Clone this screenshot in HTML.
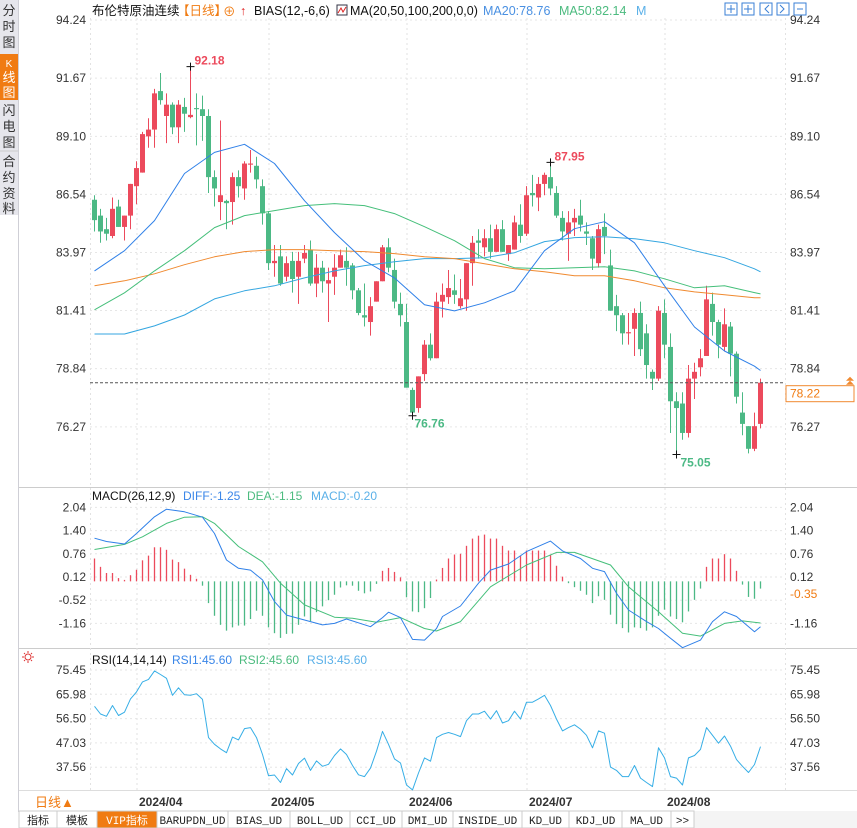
<!DOCTYPE html>
<html><head><meta charset="utf-8"><style>
html,body{margin:0;padding:0;background:#fff;width:857px;height:828px;overflow:hidden;font-family:"Liberation Sans","Noto Sans CJK SC",sans-serif;}
svg{display:block}
</style></head><body>
<svg id="c" width="857" height="828" viewBox="0 0 857 828" xmlns="http://www.w3.org/2000/svg" font-family="Liberation Sans, Noto Sans CJK SC, sans-serif">
<rect x="0" y="0" width="857" height="828" fill="#fff"/>
<g>
<rect x="0" y="0" width="18" height="215" fill="#e6e6ec"/>
<line x1="18.5" y1="0" x2="18.5" y2="812" stroke="#cfcfd6"/>
<g font-size="13" fill="#333" text-anchor="middle"><text x="9" y="15">分</text><text x="9" y="31">时</text><text x="9" y="47">图</text></g>
<rect x="0" y="54" width="18" height="46" fill="#f07b12"/>
<g font-size="13" fill="#fff" text-anchor="middle"><text x="9" y="67" font-size="10">K</text><text x="9" y="82">线</text><text x="9" y="97">图</text></g>
<g font-size="13" fill="#333" text-anchor="middle"><text x="9" y="115">闪</text><text x="9" y="131">电</text><text x="9" y="147">图</text></g>
<line x1="0" y1="151" x2="18" y2="151" stroke="#ccc"/>
<g font-size="13" fill="#333" text-anchor="middle"><text x="9" y="166">合</text><text x="9" y="182">约</text><text x="9" y="198">资</text><text x="9" y="213">料</text></g>
</g>
<g id="grid"></g>
<g id="plot"></g>
<g font-size="12.5">
<text x="92" y="15" fill="#111">布伦特原油连续</text>
<text x="177" y="15" fill="#f07b12">【日线】</text>
<text x="223" y="16" fill="#f07b12">⊕</text>
<text x="240" y="15" fill="#e02020" font-weight="bold">↑</text>
<text x="254" y="15" fill="#111">BIAS(12,-6,6)</text>
<rect x="337" y="5" width="10" height="10" fill="#fff" stroke="#334"/>
<polyline points="338,13 341,8 343,12 346,7" fill="none" stroke="#d22" stroke-width="1"/>
<text x="350" y="15" fill="#111">MA(20,50,100,200,0,0)</text>
<text x="483" y="15" fill="#4a90e2">MA20:78.76</text>
<text x="559" y="15" fill="#4cbb7f">MA50:82.14</text>
<text x="636" y="15" fill="#5ab0e8">M</text>
</g>
<g fill="none" stroke="#3a7fd5">
<rect x="725" y="3" width="12" height="12"/>
<rect x="742" y="3" width="12" height="12"/>
<rect x="760" y="3" width="12" height="12"/>
<rect x="777" y="3" width="12" height="12"/>
<rect x="794" y="3" width="12" height="12"/>
<path d="M731,5v8M727,9h8M748,5v8M744,9h8M769,5l-4,4l4,4M780,5l4,4l-4,4M797,9h6"/>
</g>
<g font-size="12">
<text x="92" y="500" fill="#111">MACD(26,12,9)</text>
<text x="183" y="500" fill="#3a86e8">DIFF:-1.25</text>
<text x="247" y="500" fill="#4cbb7f">DEA:-1.15</text>
<text x="311" y="500" fill="#5ab0e8">MACD:-0.20</text>
</g>
<g font-size="12">
<circle cx="28" cy="657" r="3" fill="none" stroke="#d33"/><path d="M28,651v2M28,661v2M22,657h2M32,657h2M24,653l1,1M31,660l1,1M32,653l-1,1M25,660l-1,1" stroke="#d33"/>
<text x="92" y="664" fill="#111">RSI(14,14,14)</text>
<text x="172" y="664" fill="#3a86e8">RSI1:45.60</text>
<text x="239" y="664" fill="#4cbb7f">RSI2:45.60</text>
<text x="307" y="664" fill="#5ab0e8">RSI3:45.60</text>
</g>
<g>
<text x="35" y="807" fill="#f07b12" font-size="13">日线▲</text>
</g>
<g id="tabs"></g>
</svg>
<script>
const open  = [86.3,85.6,85.0,84.7,86.0,85.1,85.6,86.9,87.5,89.1,89.4,91.1,90.0,90.5,89.5,90.4,89.95,90.35,90.3,90.0,87.3,86.2,86.25,86.2,87.3,86.8,87.85,87.8,86.9,85.7,83.5,83.8,82.9,83.6,82.9,83.7,84.1,82.6,83.3,82.6,82.9,83.3,83.6,83.4,82.3,81.2,80.9,81.8,82.7,84.2,83.2,81.7,80.9,77.9,77.1,78.6,79.9,79.3,81.8,82.0,82.3,81.6,81.9,83.5,84.5,84.2,84.6,84.0,85.0,83.9,84.1,85.2,84.8,86.6,86.4,87.0,87.3,86.6,85.5,84.8,85.3,85.6,84.9,84.6,83.5,85.1,83.4,81.6,81.2,80.4,80.6,81.3,80.4,78.7,78.4,81.3,79.8,77.4,77.3,76.0,78.4,78.9,79.4,81.7,80.9,79.8,80.7,79.5,76.9,76.3,75.3,76.4];
const high  = [86.5,85.9,85.5,86.4,86.3,85.6,87.0,88.0,89.3,89.9,91.2,91.9,91.0,90.6,90.7,90.8,92.18,91.0,90.9,90.3,87.6,89.8,86.3,87.5,87.6,88.0,88.5,88.2,87.2,85.8,84.3,84.3,83.8,84.0,84.0,84.3,84.5,83.9,83.6,83.3,83.9,84.1,84.2,83.5,82.4,82.6,82.0,82.7,84.3,84.6,83.7,82.2,81.7,78.0,78.5,80.1,80.4,82.2,82.6,83.2,83.0,82.8,83.5,84.7,85.0,85.0,85.2,85.2,85.4,84.3,85.6,86.1,86.9,87.4,87.3,87.5,87.95,86.9,85.8,85.8,85.9,86.3,85.3,84.7,85.2,85.7,84.1,82.1,81.3,81.3,81.5,81.8,80.8,78.8,81.6,81.9,80.4,77.8,77.8,79.0,79.1,79.7,82.5,82.2,81.0,81.5,80.9,79.6,77.8,76.3,76.9,78.4];
const low   = [84.9,84.4,84.5,84.6,85.1,84.5,85.0,86.1,87.5,88.6,88.6,90.5,88.8,89.2,88.8,89.3,89.9,88.7,88.9,86.6,86.0,85.4,85.0,85.2,86.4,86.3,87.5,86.8,85.2,83.2,82.9,82.5,82.7,82.2,81.7,83.5,82.5,82.0,82.2,80.9,82.1,83.3,82.5,81.9,81.2,80.7,80.3,81.8,82.7,83.1,81.5,80.7,78.0,76.76,76.9,78.3,79.2,79.3,81.1,81.7,81.7,81.5,81.4,82.5,83.7,83.8,83.7,84.0,84.0,83.6,84.1,84.4,84.7,86.0,85.8,86.5,86.5,85.5,84.5,83.6,84.7,84.9,84.3,83.2,83.3,83.9,81.4,80.5,79.9,79.9,79.4,79.4,78.4,77.9,78.3,79.3,76.0,75.05,75.7,75.8,77.5,78.5,79.4,80.3,79.3,79.6,78.5,77.3,75.9,75.1,75.2,76.2];
const close = [85.4,84.9,84.8,85.9,85.1,85.6,87.0,87.7,89.2,89.4,91.0,90.7,90.5,89.5,90.5,90.1,90.05,90.3,90.0,87.3,86.8,86.5,86.15,87.3,86.9,87.9,87.9,87.2,85.7,83.5,83.6,82.6,83.5,82.8,83.6,83.95,82.6,83.3,82.7,82.75,83.3,83.85,83.3,82.3,81.3,81.1,81.6,82.7,84.2,83.3,81.8,81.2,78.0,76.9,78.5,79.9,79.3,81.8,82.1,82.4,82.1,81.95,83.5,84.4,84.4,84.6,84.0,85.0,84.0,84.3,85.3,84.7,86.5,86.5,87.0,87.4,86.8,85.6,84.9,85.3,85.5,85.2,84.8,83.7,85.0,84.7,81.4,81.2,80.4,80.45,81.3,79.7,79.0,78.4,81.4,79.9,77.4,77.1,76.0,78.4,78.7,79.3,81.9,80.9,79.9,80.8,79.5,77.6,76.4,75.3,76.3,78.22];
const maIdx  = [0,5,10,15,20,25,30,35,40,45,50,55,60,65,70,75,80,85,90,95,100,105,110,111];
const ma20   = [83.16,84.05,85.38,87.46,88.39,88.75,87.90,86.26,84.85,83.61,82.85,81.66,81.39,81.75,82.28,84.05,85.02,85.33,84.40,82.50,80.68,79.62,78.95,78.76];
const ma50   = [81.44,82.19,83.16,84.05,85.07,85.60,85.82,86.04,86.13,86.04,85.69,85.11,84.49,83.70,83.30,83.25,83.30,83.34,83.16,82.81,82.41,82.50,82.20,82.14];
const ma100  = [82.50,82.72,83.03,83.43,83.78,84.01,84.10,84.10,84.05,84.01,83.92,83.78,83.70,83.47,83.25,83.12,82.94,82.94,82.72,82.41,82.23,82.10,81.97,81.97];
const ma200  = [80.37,80.37,80.73,81.21,81.92,82.28,82.50,82.85,83.16,83.39,83.56,83.70,83.70,83.74,83.96,84.45,84.63,84.67,84.58,84.40,84.05,83.74,83.25,83.12];
const macdHist = [0.63,0.40,0.23,0.23,0.09,0.04,0.17,0.32,0.58,0.71,0.94,0.94,0.87,0.60,0.53,0.35,0.18,0.07,-0.12,-0.60,-0.95,-1.20,-1.36,-1.27,-1.22,-1.22,-1.04,-0.81,-0.95,-1.27,-1.43,-1.56,-1.45,-1.44,-1.20,-0.97,-1.10,-0.85,-0.69,-0.52,-0.37,-0.17,-0.11,-0.12,-0.26,-0.33,-0.28,-0.07,0.29,0.37,0.26,0.11,-0.44,-0.83,-0.85,-0.74,-0.46,0.05,0.37,0.63,0.74,0.76,0.98,1.18,1.26,1.29,1.18,1.18,0.98,0.85,0.85,0.71,0.85,0.85,0.85,0.85,0.74,0.43,0.13,-0.05,-0.16,-0.26,-0.37,-0.60,-0.41,-0.51,-0.92,-1.18,-1.29,-1.41,-1.27,-1.29,-1.36,-1.27,-0.95,-0.78,-0.97,-1.04,-1.13,-0.83,-0.51,-0.20,0.40,0.63,0.63,0.75,0.63,0.29,-0.09,-0.43,-0.48,-0.20];
const difIdx = [0,2,5,7,10,12,15,18,20,22,24,26,28,30,32,36,38,40,42,46,48,49,51,53,55,57,58,61,64,66,69,72,76,78,81,83,85,87,89,92,94,96,98,101,103,105,107,110,111];
const dif    = [1.19,1.10,1.03,1.32,1.78,1.99,1.92,1.77,1.32,0.59,0.36,0.31,0.04,-0.56,-0.93,-1.11,-1.20,-1.16,-1.04,-1.25,-1.00,-0.85,-1.00,-1.60,-1.62,-1.30,-0.97,-0.68,-0.05,0.31,0.48,0.82,1.11,0.84,0.63,0.36,0.27,-0.33,-0.79,-1.11,-1.30,-1.57,-1.83,-1.62,-1.11,-0.84,-0.97,-1.39,-1.25];
const deaIdx = [0,5,8,12,15,18,20,24,28,31,35,40,43,47,51,55,57,61,66,72,77,80,86,89,94,98,101,105,108,111];
const dea    = [0.88,1.02,1.23,1.60,1.77,1.78,1.60,0.96,0.54,-0.05,-0.65,-0.99,-1.02,-1.13,-1.00,-1.30,-1.37,-1.11,-0.15,0.45,0.80,0.80,0.45,-0.15,-0.84,-1.43,-1.51,-1.16,-1.09,-1.15];
const rsi = [61.3,58.3,57.4,61.6,57.7,59.0,64.2,66.9,70.8,71.8,75.1,73.7,72.2,65.6,68.5,65.8,65.6,66.2,64.0,49.1,46.5,44.7,43.2,49.3,48.2,52.6,53.0,49.1,42.5,34.2,34.5,31.6,37.0,34.5,39.0,41.1,36.3,40.0,37.9,38.7,42.1,44.7,42.5,38.2,34.6,33.9,37.2,43.8,51.5,46.5,40.8,39.2,30.6,28.7,35.3,41.2,39.9,49.1,50.4,51.1,50.4,49.5,55.7,58.3,58.3,59.4,56.3,59.6,54.8,55.7,59.4,56.3,62.9,62.9,64.2,65.6,61.6,56.3,51.7,53.0,54.1,52.4,50.0,45.1,51.7,50.8,37.6,36.3,33.9,33.9,38.2,33.3,31.6,30.0,45.1,41.2,33.9,33.3,30.6,41.2,42.1,44.5,53.0,50.0,46.9,49.7,45.8,40.5,37.9,35.5,38.6,45.6];
const priceTicks = [94.24,91.67,89.10,86.54,83.97,81.41,78.84,76.27];
const macdTicks = [2.04,1.40,0.76,0.12,-0.52,-1.16];
const rsiTicks = [75.45,65.98,56.50,47.03,37.56];
const monthLabels = ["2024/04","2024/05","2024/06","2024/07","2024/08"];
const monthStart = [7,29,52,72,95];
const lastPrice = 78.22;
const macdLast = -0.35;

const X = i => 94 + 6*i;
const yP = p => 20 + (94.24 - p)*22.64;
const yM = v => 577 - (v - 0.12)*36.25;
const yR = v => 670 + (75.45 - v)*2.565;
const NS = "http://www.w3.org/2000/svg";
function mk(tag, attrs, parent, txt){ const e=document.createElementNS(NS,tag); for(const k in attrs) e.setAttribute(k,attrs[k]); if(txt!==undefined) e.textContent=txt; parent.appendChild(e); return e; }
const grid = document.getElementById('grid'), plot = document.getElementById('plot');
const fmt = v => v.toFixed(2);

mk('line',{x1:19,y1:487.5,x2:857,y2:487.5,stroke:'#ccc'},grid);
mk('line',{x1:19,y1:648.5,x2:857,y2:648.5,stroke:'#ccc'},grid);
mk('line',{x1:19,y1:790.5,x2:857,y2:790.5,stroke:'#ddd'},grid);
mk('line',{x1:90.5,y1:18,x2:90.5,y2:790,stroke:'#e2e2e2','stroke-dasharray':'2,3'},grid);
mk('line',{x1:785.5,y1:18,x2:785.5,y2:790,stroke:'#e2e2e2','stroke-dasharray':'2,3'},grid);

function ticks(arr, ymap, name, skipRight){
  arr.forEach(t=>{
    const y=ymap(t);
    const l=mk('line',{x1:90,y1:y,x2:785,y2:y,stroke:'#e6e6e6','stroke-dasharray':'2,3'},grid);
    
    
    const a=mk('text',{x:86,y:y+4,'font-size':12,fill:'#333','text-anchor':'end'},grid,fmt(t));
    
    
    if(skipRight!==undefined && Math.abs(ymap(skipRight)-y)<12) return;
    const b=mk('text',{x:790,y:y+4,'font-size':12,fill:'#333'},grid,fmt(t));
    
    
  });
}
ticks(priceTicks,yP,'price');ticks(macdTicks,yM,'macd',macdLast);ticks(rsiTicks,yR,'rsi');

monthStart.forEach((m,k)=>{
  const x=X(m)+1;
  const l=mk('line',{x1:x,y1:18,x2:x,y2:790,stroke:'#e2e2e2','stroke-dasharray':'2,3'},grid);
  
  
  const t=mk('text',{x:x+2,y:806,'font-size':12,'font-weight':'bold',fill:'#333'},grid,monthLabels[k]);
  
  
});

const UP='#ec4a5c', DN='#4cb985';
close.forEach((c,i)=>{
  const o=open[i], up=c>=o, col=up?UP:DN, x=X(i);
  const g=mk('g',{},plot);
  
  
  mk('line',{x1:x+0.5,y1:yP(high[i]),x2:x+0.5,y2:yP(low[i]),stroke:col,'stroke-width':1},g);
  const top=yP(Math.max(o,c)), bot=yP(Math.min(o,c));
  mk('rect',{x:x-2,y:top,width:5,height:Math.max(1,bot-top),fill:col},g);
});

function line(idx, vals, ymap, col, name){
  const pts=idx.map((i,k)=>X(i)+0.5+','+ymap(vals[k]).toFixed(1)).join(' ');
  const p=mk('polyline',{points:pts,fill:'none',stroke:col,'stroke-width':1,'stroke-linejoin':'round'},plot);
  
  
}
line(maIdx,ma200,yP,'#34a6e0','ma200-line');
line(maIdx,ma100,yP,'#f08a30','ma100-line');
line(maIdx,ma50,yP,'#45bf7a','ma50-line');
line(maIdx,ma20,yP,'#2f80e8','ma20-line');

const ly=yP(lastPrice);
const dl=mk('line',{x1:90,y1:ly,x2:785,y2:ly,stroke:'#555','stroke-dasharray':'3,2'},plot);


const lb=mk('rect',{x:786,y:ly+3,width:68,height:16,fill:'#fff',stroke:'#f08a30'},plot);


mk('text',{x:790,y:ly+15,'font-size':12,fill:'#f07b12'},plot,fmt(lastPrice));
mk('path',{d:`M846,${ly-2}l4,-4l4,4zM846,${ly+2}l4,-4l4,4z`,fill:'#f08a30'},plot);

function mark(i,p,txt,col,dx,dy){
  const x=X(i)+0.5,y=yP(p);
  mk('path',{d:`M${x-4},${y}h8M${x},${y-4}v8`,stroke:'#111'},plot);
  const t=mk('text',{x:x+dx,y:y+dy,'font-size':12,'font-weight':'bold',fill:col},plot,txt);
  
  
}
let hi=0,lo=0; high.forEach((h,i)=>{if(h>high[hi])hi=i;}); low.forEach((l,i)=>{if(l<low[lo])lo=i;});
mark(hi,high[hi],fmt(high[hi]),'#ec4a5c',4,-2);
mark(76,high[76],fmt(high[76]),'#ec4a5c',4,-2);
mark(53,low[53],fmt(low[53]),'#4cb985',2,12);
mark(lo,low[lo],fmt(low[lo]),'#4cb985',4,12);

macdHist.forEach((v,i)=>{
  const x=X(i)+0.5;
  const l=mk('line',{x1:x,y1:yM(0),x2:x,y2:yM(v),stroke:v>=0?UP:DN,'stroke-width':1.3},plot);
  
  
});
line(deaIdx,dea,yM,'#45bf7a','dea-line');
line(difIdx,dif,yM,'#2f80e8','dif-line');
const mv=mk('text',{x:790,y:yM(macdLast)+4,'font-size':12,fill:'#f07b12'},plot,fmt(macdLast));



line(rsi.map((v,i)=>i),rsi,yR,'#36aee6','rsi-line');

const tabs=document.getElementById('tabs');
mk('rect',{x:19,y:811,width:838,height:17,fill:'#f4f4f4'},tabs);
const tabNames=["指标","模板","VIP指标","BARUPDN_UD","BIAS_UD","BOLL_UD","CCI_UD","DMI_UD","INSIDE_UD","KD_UD","KDJ_UD","MA_UD",">>"];
const tabX=[19,57,97,157,228,290,350,402,453,522,569,622,671,694];
tabNames.forEach((n,k)=>{
  const g=mk('g',{},tabs);
  
  
  const w=tabX[k+1]-tabX[k];
  mk('rect',{x:tabX[k],y:811,width:w,height:17,fill:k==2?'#f07b12':'#fff',stroke:'#ccc'},g);
  mk('text',{x:tabX[k]+w/2,y:824,'font-size':11,'text-anchor':'middle',fill:k==2?'#fff':'#222','font-family':'Liberation Mono, Noto Sans CJK SC, monospace'},g,n);
});
</script>
</body></html>
